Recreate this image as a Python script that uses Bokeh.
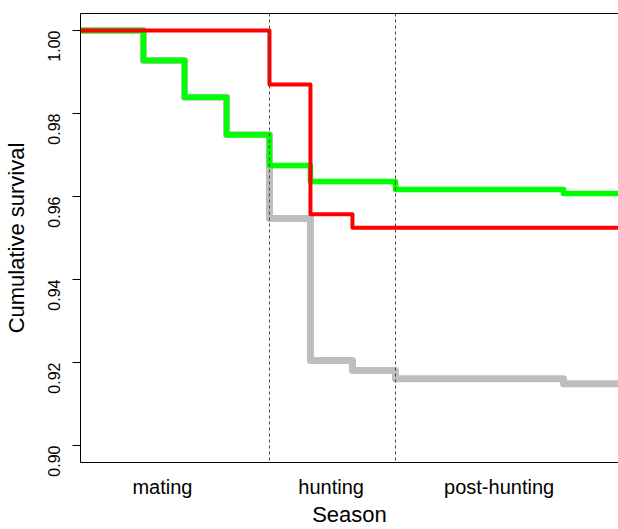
import math
from bokeh.plotting import figure
from bokeh.models import Range1d, FixedTicker, LinearAxis, Span
from bokeh.embed import file_html
from bokeh.resources import INLINE

# ---- data (time in days, survival) ----
grey_t = [0, 42.7, 70.6, 99.1, 128.2, 156.0, 184.5, 213.7, 327.7, 365]
grey_s = [1.0, 0.9928, 0.9839, 0.9749, 0.9547, 0.9205, 0.9181, 0.9161, 0.9149, 0.9149]
green_t = [0, 42.7, 70.6, 99.1, 128.2, 156.0, 213.7, 327.7, 365]
green_s = [1.0, 0.9928, 0.9839, 0.9749, 0.9675, 0.9636, 0.9617, 0.9607, 0.9607]
red_t = [0, 128.2, 156.0, 184.5, 365]
red_s = [1.0, 0.9870, 0.9557, 0.9525, 0.9525]

season_bounds = [128.2, 213.7]
season_label_pos = [55.6, 170.0, 284.0]
season_labels = ["mating", "hunting", "post-hunting"]
y_ticks = [0.90, 0.92, 0.94, 0.96, 0.98, 1.00]

FONT = "Liberation Sans"

p = figure(width=618, height=529, output_backend="svg", toolbar_location=None,
           x_range=Range1d(0, 365), y_range=Range1d(0.8959, 1.0041),
           x_axis_location=None, y_axis_location=None,
           min_border_left=80, min_border_right=0, min_border_top=13, min_border_bottom=67)
p.outline_line_color = None
p.grid.visible = False
p.background_fill_color = "white"
p.border_fill_color = "white"

# left axis
ya = LinearAxis(ticker=FixedTicker(ticks=y_ticks))
ya.major_label_overrides = {t: f"{t:.2f}" for t in y_ticks}
ya.major_label_orientation = math.pi / 2
ya.major_tick_out = 8
ya.major_tick_in = 0
ya.minor_tick_line_color = None
ya.major_tick_line_color = "black"
ya.major_tick_line_width = 1
ya.axis_line_color = "black"
ya.major_label_text_font = FONT
ya.major_label_text_font_size = "16px"
ya.major_label_text_color = "black"
ya.major_label_standoff = 18
ya.axis_label = "Cumulative survival"
ya.axis_label_text_font = FONT
ya.axis_label_text_font_size = "22px"
ya.axis_label_text_font_style = "normal"
ya.axis_label_text_color = "black"
ya.axis_label_standoff = 11
p.add_layout(ya, "left")

# bottom axis with season labels
xa = LinearAxis(ticker=FixedTicker(ticks=season_label_pos))
xa.major_label_overrides = {t: s for t, s in zip(season_label_pos, season_labels)}
xa.major_tick_line_color = None
xa.minor_tick_line_color = None
xa.axis_line_color = "black"
xa.major_label_text_font = FONT
xa.major_label_text_font_size = "20px"
xa.major_label_text_color = "black"
xa.major_label_standoff = 7
xa.axis_label = "Season"
xa.axis_label_text_font = FONT
xa.axis_label_text_font_size = "22px"
xa.axis_label_text_font_style = "normal"
xa.axis_label_text_color = "black"
xa.axis_label_standoff = 1
p.add_layout(xa, "below")

# top border line
ta = LinearAxis(ticker=FixedTicker(ticks=[]))
ta.major_tick_line_color = None
ta.minor_tick_line_color = None
ta.major_label_text_font_size = "0px"
ta.axis_line_color = "black"
p.add_layout(ta, "above")

for b in season_bounds:
    p.add_layout(Span(location=b, dimension="height", line_color="#444444",
                      line_width=1, line_dash="3 3"))

p.step(grey_t, grey_s, mode="after", line_color="#BEBEBE", line_width=7,
       line_join="round", line_cap="round")
p.step(green_t, green_s, mode="after", line_color="#00FF00", line_width=5.5,
       line_join="round", line_cap="round")
p.step(red_t, red_s, mode="after", line_color="#FF0000", line_width=4,
       line_join="round", line_cap="round")

open("out.html", "w").write(file_html(p, INLINE))
